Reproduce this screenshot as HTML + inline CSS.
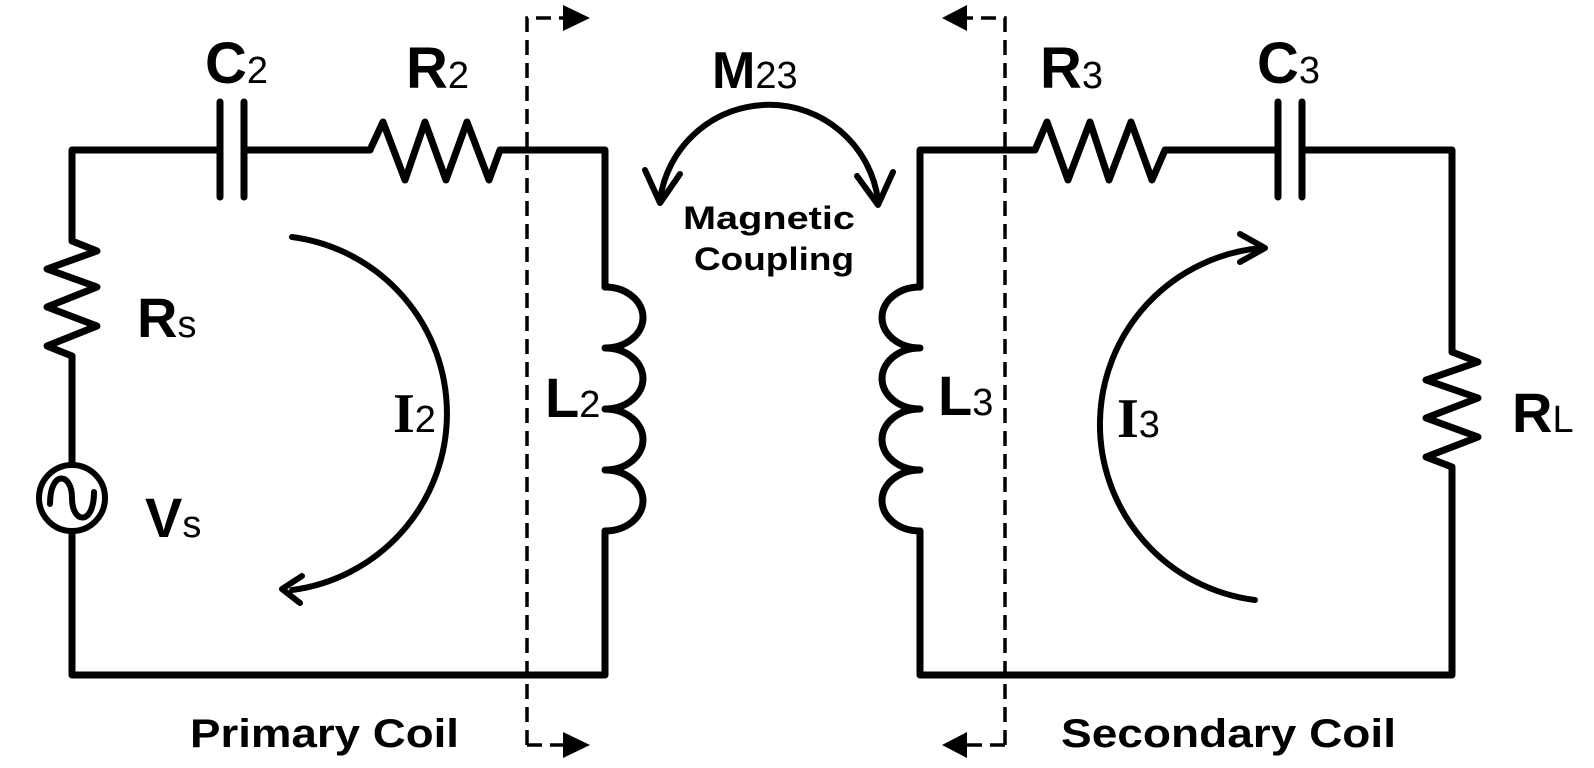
<!DOCTYPE html>
<html><head><meta charset="utf-8"><style>
html,body{margin:0;padding:0;background:#fff;}
svg{display:block;}
text{font-family:"Liberation Sans",sans-serif;font-weight:bold;fill:#000;}
.sub{font-size:38px;font-weight:normal;}
</style></head><body>
<svg width="1594" height="768" viewBox="0 0 1594 768" xmlns="http://www.w3.org/2000/svg">
<g fill="none" stroke="#000" stroke-width="7" stroke-linejoin="round" stroke-linecap="round">
<!-- Left circuit -->
<path d="M220 150 H72 V241 L97 251 L47 269 L97 287 L47 307 L97 326 L47 346 L72 356 V464"/>
<path d="M72 532 V675 H605 V531"/>
<path d="M605 287 V150 H500 L489 180 L467 122 L446 180 L425 122 L405 180 L383 122 L370 150 H244"/>
<line x1="220" y1="102" x2="220" y2="197"/>
<line x1="244" y1="102" x2="244" y2="197"/>
<circle cx="72" cy="498" r="33" stroke-width="6"/>
<path d="M50 504 C50 470 72 472 72 498 C72 524 94 526 94 492" stroke-width="6"/>
<path d="M605 287 A38 30.5 0 0 1 605 348 A38 30.5 0 0 1 605 409 A38 30.5 0 0 1 605 470 A38 30.5 0 0 1 605 531"/>
<!-- I2 arc -->
<path d="M292 237 A178 178 0 0 1 292 590" stroke-width="6"/>
<path d="M302 576 L282 589 L300 603" stroke-width="6"/>
<!-- Right circuit -->
<path d="M920 287 V150 H1035 L1047 122 L1068 180 L1090 122 L1109 180 L1131 122 L1152 180 L1165 150 H1278"/>
<path d="M1302 150 H1452 V352 L1478 362 L1426 380 L1478 398 L1426 418 L1478 437 L1426 457 L1452 467 V675 H920 V531"/>
<line x1="1278" y1="102" x2="1278" y2="197"/>
<line x1="1302" y1="102" x2="1302" y2="197"/>
<path d="M920 287 A38 30.5 0 0 0 920 348 A38 30.5 0 0 0 920 409 A38 30.5 0 0 0 920 470 A38 30.5 0 0 0 920 531"/>
<!-- I3 arc -->
<path d="M1255 600 A177 177 0 0 1 1262 248" stroke-width="6"/>
<path d="M1240 234 L1265 248 L1240 262" stroke-width="6"/>
<!-- M23 arc -->
<path d="M660 200 A110 110 0 0 1 878 200" stroke-width="6"/>
<path d="M645 170 L660 203 L680 174" stroke-width="6"/>
<path d="M857 176 L878 205 L893 172" stroke-width="6"/>
</g>
<!-- dashed lines -->
<g fill="none" stroke="#000" stroke-width="3.5" stroke-dasharray="15 8">
<path d="M527 745 V18 H563"/>
<path d="M527 745 H563"/>
<path d="M1005 745 V18 H967"/>
<path d="M1005 745 H967"/>
</g>
<g fill="#000">
<polygon points="590,18 563,5 563,31"/>
<polygon points="590,745 563,732 563,758"/>
<polygon points="942,18 967,5 967,31"/>
<polygon points="942,745 967,732 967,758"/>
</g>
<!-- labels -->
<text x="205" y="83" font-size="58">C<tspan class="sub">2</tspan></text>
<text x="406" y="88" font-size="58">R<tspan class="sub">2</tspan></text>
<text x="1040" y="88" font-size="58">R<tspan class="sub">3</tspan></text>
<text x="1257" y="83" font-size="58">C<tspan class="sub">3</tspan></text>
<text x="712" y="88" font-size="52">M<tspan class="sub" font-size="36">23</tspan></text>
<text x="683" y="229" font-size="32" textLength="172" lengthAdjust="spacingAndGlyphs">Magnetic</text>
<text x="694" y="270" font-size="32" textLength="160" lengthAdjust="spacingAndGlyphs">Coupling</text>
<text x="137" y="337" font-size="56">R<tspan class="sub">s</tspan></text>
<text x="145" y="537" font-size="56">V<tspan class="sub">s</tspan></text>
<text x="393" y="432" font-size="56" style="font-family:'Liberation Serif',serif">I<tspan class="sub" style="font-family:'Liberation Sans',sans-serif">2</tspan></text>
<text x="545" y="417" font-size="56">L<tspan class="sub">2</tspan></text>
<text x="938" y="415" font-size="56">L<tspan class="sub">3</tspan></text>
<text x="1117" y="437" font-size="56" style="font-family:'Liberation Serif',serif">I<tspan class="sub" style="font-family:'Liberation Sans',sans-serif">3</tspan></text>
<text x="1512" y="432" font-size="56">R<tspan class="sub" font-size="34">L</tspan></text>
<text x="190" y="747" font-size="40" textLength="269" lengthAdjust="spacingAndGlyphs">Primary Coil</text>
<text x="1061" y="747" font-size="40" textLength="335" lengthAdjust="spacingAndGlyphs">Secondary Coil</text>
</svg>
</body></html>
